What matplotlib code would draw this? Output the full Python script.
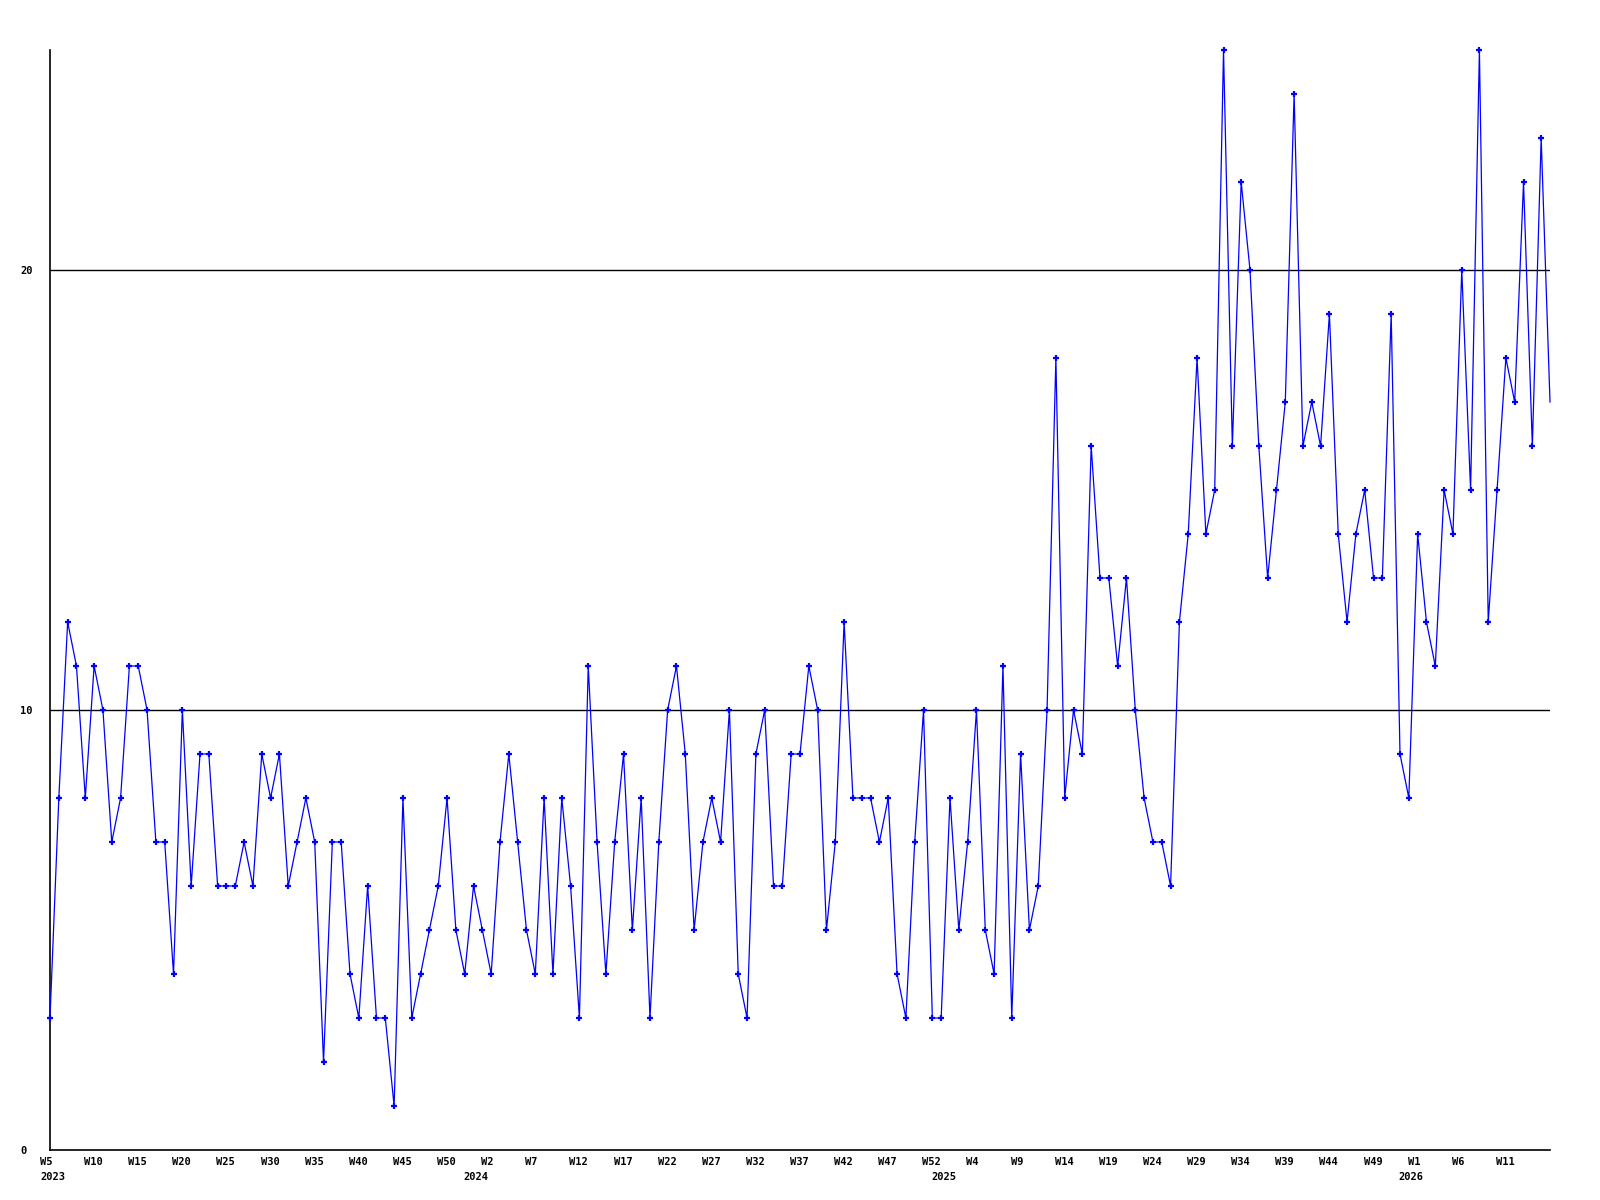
import matplotlib
matplotlib.use("Agg")
import matplotlib.pyplot as plt
from matplotlib.transforms import offset_copy

# weekly counts, first point is 2023 W5
counts_2023 = [3, 8, 12, 11, 8, 11, 10, 7, 8, 11, 11, 10, 7, 7, 4, 10, 6, 9, 9, 6,
               6, 6, 7, 6, 9, 8, 9, 6, 7, 8, 7, 2, 7, 7, 4, 3, 6, 3, 3, 1,
               8, 3, 4, 5, 6, 8, 5, 4]
counts_2024 = [6, 5, 4, 7, 9, 7, 5, 4, 8, 4, 8, 6, 3, 11, 7, 4, 7, 9, 5, 8,
               3, 7, 10, 11, 9, 5, 7, 8, 7, 10, 4, 3, 9, 10, 6, 6, 9, 9, 11, 10,
               5, 7, 12, 8, 8, 8, 7, 8, 4, 3, 7, 10, 3]
counts_2025 = [3, 8, 5, 7, 10, 5, 4, 11, 3, 9, 5, 6, 10, 18, 8, 10, 9, 16, 13, 13,
               11, 13, 10, 8, 7, 7, 6, 12, 14, 18, 14, 15, 25, 16, 22, 20, 16, 13, 15, 17,
               24, 16, 17, 16, 19, 14, 12, 14, 15, 13, 13, 19, 9]
counts_2026 = [8, 14, 12, 11, 15, 14, 20, 15, 25, 12, 15, 18, 17, 22, 16, 23, 17]

first_weeks = {2023: 5, 2024: 0, 2025: 0, 2026: 0}
series = [(2023, counts_2023), (2024, counts_2024), (2025, counts_2025), (2026, counts_2026)]

values = []
weeks = []
year_starts = []
for year, vals in series:
    year_starts.append((len(values), str(year)))
    for k, v in enumerate(vals):
        values.append(v)
        weeks.append('W%d' % (first_weeks[year] + k))

x = list(range(len(values)))

plt.rcParams['font.family'] = ['DejaVu Sans Mono']
fig = plt.figure(figsize=(16, 12), dpi=100)
ax = fig.add_axes([50 / 1600, 50 / 1200, 1500 / 1600, 1100 / 1200])

ax.plot(x, values, color='#0000ff', lw=0.9, marker='+', ms=4.5, mew=1.6,
        markevery=list(range(len(values) - 1)), clip_on=False, zorder=3)

for level in (10, 20):
    ax.axhline(level, color='black', lw=1.0, zorder=1)

ax.set_xlim(0, len(values) - 1)
ax.set_ylim(0, 25)
for side in ('top', 'right'):
    ax.spines[side].set_visible(False)
for side in ('left', 'bottom'):
    ax.spines[side].set_linewidth(1.2)

ax.set_xticks([])
ax.set_yticks([0, 10, 20])
ax.set_yticklabels(['0', '10', '20'], fontsize=7.5, fontweight='bold')
for lab in ax.get_yticklabels():
    lab.set_ha('left')
ax.tick_params(axis='y', length=0, pad=21.6)

# week labels every 5 points, year under the first week of each year
wk_tr = offset_copy(ax.transData, fig=fig, x=-10, y=-12, units='dots')
for i in range(0, len(values) - 1, 5):
    ax.text(i, 0, weeks[i], transform=wk_tr, ha='left', va='center',
            fontsize=7.5, fontweight='bold', clip_on=False)
yr_tr = offset_copy(ax.transData, fig=fig, x=-10, y=-27, units='dots')
for i, yr in year_starts:
    ax.text(i, 0, yr, transform=yr_tr, ha='left', va='center',
            fontsize=7.5, fontweight='bold', clip_on=False)

fig.savefig('out.png', dpi=100, facecolor='white')
